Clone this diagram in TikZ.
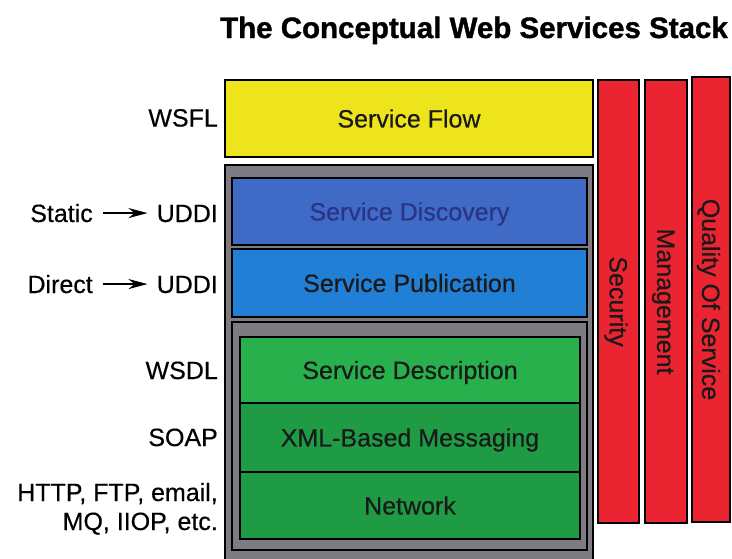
\documentclass[tikz,border=0pt]{standalone}
\usepackage{fontspec}
\setmainfont{Liberation Sans}
\usetikzlibrary{arrows.meta}

\definecolor{flowyellow}{HTML}{EEE41C}
\definecolor{discblue}{HTML}{3F6BC6}
\definecolor{discText}{HTML}{2A3484}
\definecolor{pubblue}{HTML}{2180D6}
\definecolor{descgreen}{HTML}{27B04C}
\definecolor{msggreen}{HTML}{1F9B45}
\definecolor{stackgrey}{HTML}{7E7C82}
\definecolor{barred}{HTML}{EA2430}

\begin{document}
\begin{tikzpicture}[x=1pt,y=-1pt,
  txt/.style={font=\fontsize{25}{30}\selectfont\addfontfeature{FakeBold=0.4}},
  layer/.style={txt, draw=black, line width=1.8pt, inner sep=0pt, text=black!90,
                text height=17.9pt, text depth=0pt},
  frame/.style={draw=black, line width=1.6pt, fill=stackgrey, inner sep=0pt},
  bar/.style={layer, fill=barred, rotate=-90, line width=1.5pt},
  lab/.style={txt, inner sep=0pt, anchor=base east},
  arr/.style={line width=2pt, -{Stealth[length=19pt,width=10pt,inset=6pt]},
              shorten <=10pt, shorten >=9pt}]

\useasboundingbox (0,0) rectangle (732,558);
\fill[white] (0,0) rectangle (732,558);

% heading
\node[font=\bfseries\fontsize{29.5}{35}\selectfont\addfontfeature{FakeBold=1.2},
      anchor=base, inner sep=0pt]
  (title) at (474,38) {The Conceptual Web Services Stack};

% top layer
\node[layer, fill=flowyellow, minimum width=368, minimum height=77]
  (flow) at (409,118.5) {Service Flow};

% grey container holding the lower layers
\node[frame, minimum width=368, minimum height=405] (stack) at (409,367.5) {};

% discovery and publication
\node[layer, fill=discblue, text=discText, minimum width=355, minimum height=67]
  (disc) at (409.5,211.5) {Service Discovery};
\node[layer, fill=pubblue, minimum width=355, minimum height=68]
  (pub) at (409.5,283) {Service Publication};

% inner grey container for the base layers
\node[frame, line width=1.8pt, minimum width=355, minimum height=228]
  (core) at (409.5,436) {};
\node[layer, fill=descgreen, minimum width=340, minimum height=66]
  (desc) at (410,370) {Service Description};
\node[layer, fill=msggreen, minimum width=340, minimum height=69]
  (msg) at (410,437.5) {XML-Based Messaging};
\node[layer, fill=msggreen, minimum width=340, minimum height=67]
  (net) at (410,505.5) {Network};

% vertical cross-cutting concerns
\node[bar, minimum width=443, minimum height=41] (sec) at (618.5,301.5) {Security};
\node[bar, minimum width=443, minimum height=42] (mgmt) at (666,301.5) {Management};
\node[bar, minimum width=445, minimum height=38] (qos) at (711,299.5) {Quality Of Service};

% technology labels
\node[lab] (wsfl) at (218,126.5) {WSFL};
\node[lab] (uddiS) at (218,222) {UDDI};
\node[lab] (static) at (93,222) {Static};
\node[lab] (uddiD) at (218,293) {UDDI};
\node[lab] (direct) at (93,293) {Direct};
\node[lab] (wsdl) at (218,379) {WSDL};
\node[lab] (soap) at (218,446) {SOAP};
\node[lab] (netA) at (218,501) {HTTP, FTP, email,};
\node[lab] (netB) at (218,530) {MQ, IIOP, etc.};

\draw[arr] (static.east) -- (static.east -| uddiS.west);
\draw[arr] (direct.east) -- (direct.east -| uddiD.west);
\end{tikzpicture}
\end{document}
